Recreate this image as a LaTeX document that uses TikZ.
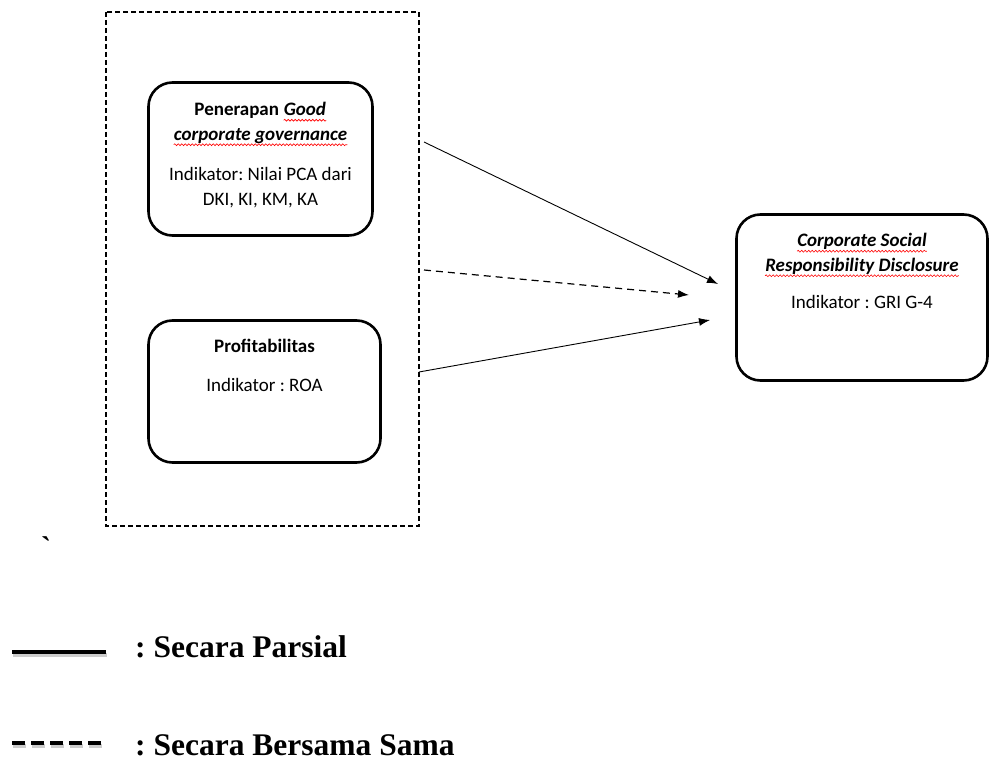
\documentclass[tikz,border=0pt]{standalone}
\usepackage{fontspec}
\setmainfont{Carlito}
\newfontfamily\legendfont{Liberation Serif}
\usetikzlibrary{arrows.meta,positioning,decorations.pathmorphing}
\frenchspacing
\newcommand\redwave[1]{\tikz[baseline=(w.base)]{\node[inner sep=0pt] (w) {#1};
  \draw[red, line width=0.6pt, decorate, decoration={snake, amplitude=0.9pt, segment length=3.5pt}]
    ([yshift=-4.5pt]w.base west) -- ([yshift=-4.5pt]w.base east);}}

\begin{document}
\begin{tikzpicture}[x=1pt,y=-1pt,
    varbox/.style={draw, line width=2.6pt, rounded corners=24pt},
    vartext/.style={align=center, inner sep=0pt, font=\fontsize{19}{24.5}\selectfont},
    linkline/.style={line width=0.9pt, -{Latex[length=11pt,width=8pt]}},
    legendtext/.style={anchor=base west, inner sep=0pt, font=\legendfont\bfseries\fontsize{31.5}{36}\selectfont}]
  \useasboundingbox (0,0) rectangle (989,760);
  \draw[line width=1.2pt, dash pattern=on 5pt off 3pt] (106,12) rectangle (419,526);

  \node[varbox, minimum width=224pt, minimum height=153pt] (gcg) at (260.5,159) {};
  \node[vartext, below=21pt of gcg.north] (gcgtext)
    {\textbf{Penerapan \redwave{\textit{Good}}}\\ \textbf{\redwave{\textit{corporate governance}}}\\[16pt]
     Indikator: Nilai PCA dari\\ DKI, KI, KM, KA};
  \node[varbox, minimum width=232pt, minimum height=142pt] (prof) at (264.5,391.5) {};
  \node[vartext, below=20pt of prof.north] (proftext)
    {\textbf{Profitabilitas}\\[14pt] Indikator : ROA};
  \node[varbox, minimum width=251pt, minimum height=166pt] (csr) at (862,297.5) {};
  \node[vartext, below=20pt of csr.north] (csrtext)
    {\textbf{\redwave{\textit{Corporate Social}}}\\ \textbf{\redwave{\textit{Responsibility Disclosure}}}\\[13pt]
     Indikator : GRI G-4};

  \coordinate (gcgout) at (424,142);
  \coordinate (jointout) at (424,270);
  \coordinate (profout) at (419,372);
  \coordinate (csrin) at (718,284);
  \coordinate (jointin) at (689,295);
  \coordinate (profin) at (710,320);
  \draw[linkline] (gcgout) -- (csrin);
  \draw[linkline, dash pattern=on 7pt off 5pt, line width=1.2pt] (jointout) -- (jointin);
  \draw[linkline] (profout) -- (profin);

  \node[font=\legendfont\bfseries\fontsize{30}{32}\selectfont, inner sep=0pt] (tick) at (46,547) {\textasciigrave};

  \coordinate (solidA) at (12,652);
  \coordinate (solidB) at (106,652);
  \draw[gray!40, line width=4pt] ([shift={(1,3)}]solidA) -- ([shift={(1,3)}]solidB);
  \draw[line width=4pt] (solidA) -- (solidB);
  \node[legendtext] (parsial) at (135,657) {: Secara Parsial};
  \coordinate (dashA) at (12,743);
  \coordinate (dashB) at (106,743);
  \draw[gray!40, line width=4pt, dash pattern=on 13pt off 6pt] ([shift={(1,3)}]dashA) -- ([shift={(1,3)}]dashB);
  \draw[line width=4pt, dash pattern=on 13pt off 6pt] (dashA) -- (dashB);
  \node[legendtext] (bersama) at (135,755) {: Secara Bersama Sama};
\end{tikzpicture}
\end{document}
